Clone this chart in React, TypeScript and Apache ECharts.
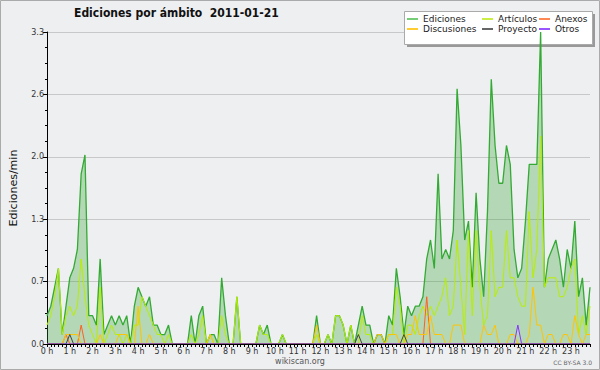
import React, { useEffect, useRef } from "react";
import * as echarts from "echarts";

const hourLabels = ["0 h","1 h","2 h","3 h","4 h","5 h","6 h","7 h","8 h","9 h","10 h","11 h","12 h","13 h","14 h","15 h","16 h","17 h","18 h","19 h","20 h","21 h","22 h","23 h"];
const minuteLabels = ["00","10","20","30","40","50"];

const ediciones = [
  0.3,0.4,0.6,0.8,0.1,0.4, 0.7,0.8,1.0,1.8,2.0,0.3,
  0.3,0.2,0.9,0.1,0.2,0.3, 0.2,0.3,0.2,0.3,0,0.4,
  0.6,0.5,0.4,0.5,0.2,0.2, 0.1,0.1,0.2,0,0,0,
  0,0,0.3,0,0.3,0.4, 0,0.1,0.1,0,0.7,0.3,
  0,0,0.5,0,0,0, 0,0,0.2,0.1,0.2,0,
  0,0,0.1,0,0,0, 0,0,0,0,0,0.3,
  0,0,0.1,0,0.3,0.3, 0.2,0,0.2,0,0.2,0.4,
  0.2,0.2,0,0.1,0.1,0, 0.3,0.2,0.8,0.5,0.1,0.4,
  0.3,0.4,0.4,0.5,0.9,1.1, 0.8,1.8,0.9,1.0,0.9,1.2,
  2.7,2.1,1.1,1.3,0.6,1.6, 0.9,0.5,1.4,2.8,2.1,1.7,
  1.7,2.1,1.9,1.0,0.7,0.8, 1.3,1.9,1.9,1.9,3.3,0.6,
  0.9,1.0,1.1,0.9,0.6,1.0, 0.8,1.3,0.5,0.7,0.2,0.6
];
const articulos = [
  0.2,0.3,0.5,0.8,0.1,0.3, 0.4,0.3,0.4,0.9,0.5,0.2,
  0.1,0,0.6,0,0.1,0.2, 0.1,0.1,0,0.1,0,0.2,
  0.2,0.5,0.4,0.3,0.2,0.1, 0.1,0,0.1,0,0,0,
  0,0,0.1,0,0.1,0.3, 0,0.1,0,0,0.3,0.1,
  0,0,0.5,0,0,0, 0,0,0.2,0.1,0.1,0,
  0,0,0.1,0,0,0, 0,0,0,0,0,0.1,
  0,0,0.1,0,0.3,0.3, 0.2,0,0.2,0,0,0.3,
  0.1,0.1,0,0,0,0, 0.1,0.1,0.6,0.4,0,0.2,
  0.2,0.1,0.3,0.4,0.3,0.4, 0.3,0.4,0.5,0.7,0.3,0.4,
  1.1,0.6,0.1,1.2,0.3,1.2, 0.6,0.2,0.3,1.2,0.5,0.6,
  0.6,1.2,0.7,0.7,0.5,0.4, 0.4,1.4,0.7,1.0,2.2,0.6,
  0.7,0.7,0.7,0.5,0.5,0.6, 0.8,0.9,0.1,0.3,0.1,0.4
];
const anexos = [
  0,0,0,0,0,0.1, 0,0,0,0.2,0,0,
  0,0,0,0,0,0, 0,0,0,0,0,0,
  0,0,0,0,0,0, 0,0,0,0,0,0,
  0,0,0,0,0,0, 0,0,0,0,0,0,
  0,0,0,0,0,0, 0,0,0,0,0,0,
  0,0,0,0,0,0, 0,0,0,0,0,0,
  0,0,0,0,0,0, 0,0,0,0,0,0,
  0,0,0,0,0,0, 0,0,0,0,0,0,
  0,0,0,0,0.5,0, 0,0,0,0,0,0,
  0,0,0,0,0,0, 0,0,0,0,0,0,
  0,0,0,0,0,0, 0,0,0,0,0,0,
  0,0,0,0,0,0, 0,0,0,0,0,0
];
const discusiones = [
  0,0,0,0,0,0.1, 0.1,0.1,0.1,0,0,0,
  0,0,0.1,0,0,0, 0,0.1,0.1,0.1,0,0,
  0.4,0,0,0.1,0,0, 0,0,0,0,0,0,
  0,0,0,0,0,0, 0,0.1,0,0,0,0,
  0,0,0,0,0,0, 0,0,0,0,0,0,
  0,0,0,0,0,0, 0,0,0,0,0,0.2,
  0,0,0,0,0,0, 0,0,0,0,0,0,
  0,0,0,0.1,0.1,0, 0.1,0.1,0.1,0,0,0.1,
  0.1,0.3,0.1,0.1,0.1,0.3, 0.1,0.1,0.1,0,0,0.2,
  0.2,0.2,0,0,0,0, 0,0.2,0.1,0.1,0.2,0,
  0,0,0.1,0.1,0,0, 0,0.1,0.6,0.2,0.2,0,
  0.1,0.1,0,0,0.1,0.1, 0,0.3,0.1,0,0.1,0.1
];
const proyecto = [
  0,0,0,0,0,0, 0.1,0,0,0,0,0,
  0,0,0,0,0,0, 0,0,0,0,0,0,
  0,0,0,0,0,0, 0,0,0,0,0,0,
  0,0,0,0,0,0, 0,0,0,0,0,0,
  0,0,0,0,0,0, 0,0,0,0,0,0,
  0,0,0,0,0,0, 0,0,0,0,0,0,
  0,0,0,0,0,0, 0,0,0,0,0.1,0,
  0,0,0,0,0,0, 0,0,0,0,0.1,0,
  0,0,0,0,0,0, 0,0,0,0,0,0,
  0,0,0,0,0,0, 0,0,0,0,0,0,
  0,0,0,0,0,0, 0,0,0,0,0,0,
  0,0,0,0,0,0, 0,0,0,0,0,0
];
const otros = [
  0,0,0,0,0,0, 0,0,0,0,0,0,
  0,0,0,0,0,0, 0,0,0,0,0,0,
  0,0,0,0,0,0, 0,0,0,0,0,0,
  0,0,0,0,0,0, 0,0,0,0,0,0,
  0,0,0,0,0,0, 0,0,0,0,0,0,
  0,0,0,0,0,0, 0,0,0,0,0,0,
  0,0,0,0,0,0, 0,0,0,0,0,0,
  0,0,0,0,0,0, 0,0,0,0,0,0,
  0,0,0,0,0,0, 0,0,0,0,0,0,
  0,0,0,0,0,0, 0,0,0,0,0,0,
  0,0,0,0,0.2,0, 0,0,0,0,0,0,
  0,0,0,0,0,0, 0,0,0,0,0,0
];

const categories: string[] = [];
hourLabels.forEach((h) => minuteLabels.forEach((m) => categories.push(m === "00" ? h : h + " " + m)));

const FONT = "'DejaVu Sans', sans-serif";
const BG = "#eeeff1";

const colors = {
  ediciones: "#33aa33",
  articulos: "#b8ee00",
  anexos: "#ff6020",
  discusiones: "#ffc400",
  proyecto: "#444444",
  otros: "#8833ff",
};

function line(name: string, data: number[], color: string, extra: any = {}) {
  return {
    name,
    type: "line",
    data,
    showSymbol: false,
    symbol: "none",
    lineStyle: { color, width: 1 },
    itemStyle: { color },
    emphasis: { disabled: true },
    ...extra,
  };
}

function legendCol(left: number, items: { name: string; color: string }[]) {
  return {
    orient: "vertical",
    left,
    top: 14,
    padding: 0,
    itemGap: 0,
    itemWidth: 11,
    itemHeight: 2,
    icon: "rect",
    selectedMode: false,
    textStyle: { fontSize: 9, fontFamily: FONT, color: "#222", lineHeight: 10, padding: [0, 0, 0, 0] },
    data: items.map((it) => ({ name: it.name, itemStyle: { color: it.color } })),
  };
}

export default function App() {
  const ref = useRef<HTMLDivElement>(null);
  useEffect(() => {
    document.body.style.margin = "0";
    const chart = echarts.init(ref.current!, null, { renderer: "svg" });
    chart.setOption({
      animation: false,
      backgroundColor: BG,
      textStyle: { fontFamily: FONT },
      title: {
        text: "Ediciones por ámbito  2011-01-21",
        left: 74,
        top: 7,
        padding: 0,
        textStyle: { fontSize: 12, fontWeight: "bold", color: "#111", fontFamily: "'DejaVu Sans Condensed', 'Liberation Sans Narrow', 'DejaVu Sans', sans-serif" },
      },
      legend: [
        legendCol(407, [
          { name: "Ediciones", color: "#77cc77" },
          { name: "Discusiones", color: "#ffcc33" },
        ]),
        legendCol(482, [
          { name: "Artículos", color: "#ccee44" },
          { name: "Proyecto", color: "#666666" },
        ]),
        legendCol(539, [
          { name: "Anexos", color: "#ff8855" },
          { name: "Otros", color: "#9955ff" },
        ]),
      ],
      grid: { left: 42, right: 10, top: 32, bottom: 26, containLabel: false },
      xAxis: {
        type: "category",
        data: categories,
        boundaryGap: false,
        z: 10,
        axisLine: { lineStyle: { color: "#000", width: 1 } },
        axisTick: { interval: 0, length: 3, lineStyle: { color: "#000" } },
        axisLabel: {
          interval: (i: number) => i % 6 === 0,
          formatter: (v: string) => v,
          fontSize: 8,
          color: "#333",
          margin: 3,
          fontFamily: FONT,
        },
        splitLine: { show: false },
      },
      yAxis: {
        type: "value",
        min: 0,
        max: 3.3,
        interval: 0.66,
        name: "Ediciones/min",
        nameLocation: "middle",
        nameGap: 28,
        nameTextStyle: { fontSize: 11, color: "#111", fontFamily: FONT },
        axisLine: { show: true, lineStyle: { color: "#000", width: 1 } },
        axisTick: { show: true, length: 4, lineStyle: { color: "#000" } },
        minorTick: { show: true, splitNumber: 4, length: 2, lineStyle: { color: "#000" } },
        axisLabel: {
          formatter: (v: number) => v.toFixed(1),
          fontSize: 8,
          color: "#333",
          margin: 3,
          fontFamily: FONT,
        },
        splitLine: { show: true, lineStyle: { color: "#c8c8c8", width: 1 } },
      },
      graphic: [
        { type: "rect", z: 1, shape: { x: 407, y: 14, width: 188, height: 33 }, style: { fill: "#999999" } },
        { type: "rect", z: 1, shape: { x: 404.5, y: 11.5, width: 188, height: 33 }, style: { fill: "#ffffff", stroke: "#aaaaaa", lineWidth: 1 } },
        { type: "text", x: 300, y: 361, style: { text: "wikiscan.org", fill: "#555", fontSize: 8, fontFamily: FONT, align: "center", verticalAlign: "middle" } },
        { type: "text", x: 592, y: 362, style: { text: "CC BY-SA 3.0", fill: "#666", fontSize: 6, fontFamily: FONT, align: "right", verticalAlign: "middle" } },
        { type: "rect", z: 100, shape: { x: 0.5, y: 0.5, width: 599, height: 369 }, style: { fill: "none", stroke: "#aaaaaa", lineWidth: 1 } },
      ],
      series: [
        line("Ediciones", ediciones, colors.ediciones, {
          lineStyle: { color: colors.ediciones, width: 1.3 },
          areaStyle: { color: "rgba(40,160,40,0.42)" },
        }),
        line("Artículos", articulos, colors.articulos),
        line("Anexos", anexos, colors.anexos),
        line("Discusiones", discusiones, colors.discusiones),
        line("Proyecto", proyecto, colors.proyecto),
        line("Otros", otros, colors.otros),
      ],
    });
    return () => chart.dispose();
  }, []);
  return <div ref={ref} style={{ width: 600, height: 370 }} />;
}
